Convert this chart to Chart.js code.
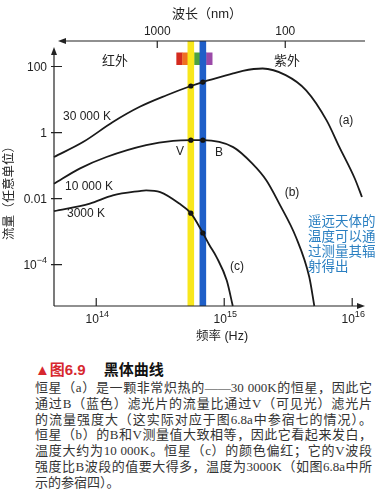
<!DOCTYPE html>
<html>
<head>
<meta charset="utf-8">
<script src="https://cdn.jsdelivr.net/npm/chart.js@4.4.0/dist/chart.umd.min.js"></script>
<style>
  body { margin: 0; background: #fff; width: 381px; height: 494px; overflow: hidden; position: relative; }
  #wrap { position: absolute; left: 0; top: 0; width: 381px; height: 350px; }
  #head { position: absolute; left: 35px; top: 361px; font-family: "Liberation Sans", "Noto Sans CJK SC", sans-serif; font-size: 15px; font-weight: bold; line-height: 18px; white-space: nowrap; }
  #head .red { color: #d7282f; }
  #head .ttl { color: #111; margin-left: 18px; }
  #cap { position: absolute; left: 35px; top: 380px; width: 337px; font-family: "Liberation Serif", "Noto Sans CJK SC", serif; font-size: 13px; color: #333; line-height: 15.8px; }
  #cap .ln { text-align: justify; text-align-last: justify; }
  #cap .last { text-align: left; }
</style>
</head>
<body>
<div id="wrap"><canvas id="myChart" width="381" height="350"></canvas></div>
<div id="head"><span class="red">▲图6.9</span><span class="ttl">黑体曲线</span></div>
<div id="cap">
  <div class="ln">恒星（a）是一颗非常炽热的——30 000K的恒星，因此它</div>
  <div class="ln">通过B（蓝色）滤光片的流量比通过V（可见光）滤光片</div>
  <div class="ln">的流量强度大（这实际对应于图6.8a中参宿七的情况）。</div>
  <div class="ln">恒星（b）的B和V测量值大致相等，因此它看起来发白，</div>
  <div class="ln">温度大约为10 000K。恒星（c）的颜色偏红；它的V波段</div>
  <div class="ln">强度比B波段的值要大得多，温度为3000K（如图6.8a中所</div>
  <div class="last">示的参宿四）。</div>
</div>
<script>
// everything in log10 units: x = log10(frequency Hz), y = log10(flux)
const logFreqA = [13.67, 13.90, 14.13, 14.34, 14.55, 14.739, 14.833, 15.07, 15.145, 15.30, 15.48, 15.64, 15.80, 15.90, 16.02, 16.076];
const logFluxA = [-0.74, -0.28, 0.32, 0.78, 1.13, 1.41, 1.53, 1.79, 1.87, 1.94, 1.74, 1.28, 0.37, -0.44, -1.39, -1.95];

const logFreqB = [13.67, 13.87, 14.08, 14.39, 14.60, 14.739, 14.833, 15.07, 15.22, 15.33, 15.43, 15.56, 15.665, 15.704];
const logFluxB = [-1.55, -1.09, -0.74, -0.38, -0.25, -0.23, -0.23, -0.44, -0.94, -1.45, -2.15, -3.16, -4.38, -5.25];

const logFreqC = [13.67, 13.95, 14.13, 14.34, 14.39, 14.50, 14.65, 14.739, 14.833, 14.885, 14.94, 15.02, 15.067];
const logFluxC = [-2.38, -2.15, -1.90, -1.77, -1.75, -1.80, -2.15, -2.44, -3.04, -3.41, -3.77, -4.48, -5.25];

// V and B filter positions and the flux read at each
const filterFreq = [14.739, 14.833];
const filterFluxA = [1.41, 1.53];
const filterFluxB = [-0.23, -0.23];
const filterFluxC = [-2.44, -3.04];

const xTicks = [14, 15, 16];
const xTickLabels = ['10^14', '10^15', '10^16'];
const yTicks = [2, 0, -2, -4];
const yTickLabels = ['100', '1', '0.01', '10^−4'];
const wavelengths = [1000, 100]; // nm, top axis
const rainbow = ['#d42a1e', '#ef6f22', '#f8e51c', '#4ea241', '#1f5bc6', '#9b4aa8'];
const rainbowFrom = 14.626, rainbowTo = 14.906;

function pts(xs, ys) {
    return xs.map((x, i) => ({ x: x, y: ys[i] }));
}

const LATIN = '"Liberation Sans", "Noto Sans CJK SC", sans-serif';

function supText(c, s, x, y, size, align) {
    // draws "10^14" style text, centred/right aligned on x
    let parts = s.split('^');
    c.font = size + 'px ' + LATIN;
    let w1 = c.measureText(parts[0]).width;
    let w2 = 0;
    if (parts[1]) {
        c.font = (size * 0.75) + 'px ' + LATIN;
        w2 = c.measureText(parts[1]).width;
    }
    let total = w1 + w2;
    let left = align == 'right' ? x - total : x - total / 2;
    c.textAlign = 'left';
    c.textBaseline = 'middle';
    c.font = size + 'px ' + LATIN;
    c.fillText(parts[0], left, y);
    if (parts[1]) {
        c.font = (size * 0.75) + 'px ' + LATIN;
        c.fillText(parts[1], left + w1, y - size * 0.42);
    }
}

function arrow(c, tx, ty, dx, dy) {
    // filled triangle with tip at (tx, ty) pointing along (dx, dy)
    let len = 8, half = 3;
    let bx = tx - dx * len, by = ty - dy * len;
    c.beginPath();
    c.moveTo(tx, ty);
    c.lineTo(bx - dy * half, by + dx * half);
    c.lineTo(bx + dy * half, by - dx * half);
    c.closePath();
    c.fill();
}

const bandsPlugin = {
    id: 'bands',
    beforeDatasetsDraw(chart) {
        const c = chart.ctx, xs = chart.scales.x, area = chart.chartArea;
        c.save();
        // rainbow strip
        let step = (rainbowTo - rainbowFrom) / rainbow.length;
        rainbow.forEach((col, i) => {
            let x0 = xs.getPixelForValue(rainbowFrom + i * step);
            let x1 = xs.getPixelForValue(rainbowFrom + (i + 1) * step);
            c.fillStyle = col;
            c.fillRect(x0, 52.5, x1 - x0 + 0.3, 12.5);
        });
        // V (yellow) and B (blue) filter bands
        let cols = ['#f8e71c', '#1f5fc8'];
        filterFreq.forEach((f, i) => {
            let px = xs.getPixelForValue(f);
            c.fillStyle = cols[i];
            c.fillRect(px - 3.3, 41, 6.6, area.bottom - 41);
        });
        c.restore();
    },
    afterDatasetsDraw(chart) {
        const c = chart.ctx, xs = chart.scales.x, ys = chart.scales.y, area = chart.chartArea;
        c.save();
        c.strokeStyle = '#222';
        c.fillStyle = '#222';
        c.lineWidth = 1.2;

        // bottom axis
        c.beginPath();
        c.moveTo(area.left, area.bottom);
        c.lineTo(area.right - 4, area.bottom);
        c.stroke();
        arrow(c, area.right, area.bottom, 1, 0);
        // left axis
        c.beginPath();
        c.moveTo(area.left, area.bottom);
        c.lineTo(area.left, area.top + 2);
        c.stroke();
        arrow(c, area.left, area.top - 3, 0, -1);
        // top (wavelength) axis
        c.beginPath();
        c.moveTo(64, 41);
        c.lineTo(365, 41);
        c.stroke();
        arrow(c, 58, 41, -1, 0);

        c.beginPath();
        xTicks.forEach(v => {
            let px = xs.getPixelForValue(v);
            c.moveTo(px, area.bottom);
            c.lineTo(px, area.bottom - 8);
        });
        yTicks.forEach(v => {
            let py = ys.getPixelForValue(v);
            c.moveTo(area.left - 3, py);
            c.lineTo(area.left + 8, py);
        });
        wavelengths.forEach(w => {
            let px = xs.getPixelForValue(Math.log10(2.998e17 / w));
            c.moveTo(px, 41);
            c.lineTo(px, 48);
        });
        c.stroke();

        // tick labels
        c.fillStyle = '#222';
        xTicks.forEach((v, i) => supText(c, xTickLabels[i], xs.getPixelForValue(v) + 1, 320, 12, 'center'));
        yTicks.forEach((v, i) => supText(c, yTickLabels[i], 47, ys.getPixelForValue(v) + 1, 12, 'right'));
        wavelengths.forEach(w => supText(c, String(w), xs.getPixelForValue(Math.log10(2.998e17 / w)), 32, 12, 'center'));

        // curve labels
        c.textBaseline = 'middle';
        c.textAlign = 'left';
        c.font = '12px ' + LATIN;
        c.fillText('30 000 K', 63, 117);
        c.fillText('10 000 K', 65, 187);
        c.fillText('3000 K', 67, 214);
        c.textAlign = 'center';
        c.fillText('V', 180, 152);
        c.fillText('B', 219, 153);
        c.fillText('(a)', 346, 121);
        c.fillText('(b)', 292, 193);
        c.fillText('(c)', 237, 267);

        // chinese labels
        c.font = '13px ' + LATIN;
        c.fillText('红外', 115, 61);
        c.fillText('紫外', 287, 61);
        c.fillText('波长（nm）', 207, 14);
        c.font = '12.5px ' + LATIN;
        c.fillText('频率 (Hz)', 222, 337);

        c.save();
        c.translate(10, 190);
        c.rotate(-Math.PI / 2);
        c.font = '12.5px ' + LATIN;
        c.fillText('流量（任意单位）', 0, 0);
        c.restore();

        // blue note
        c.fillStyle = '#2a7fc1';
        c.textAlign = 'left';
        c.font = '13.5px "Noto Sans CJK SC", sans-serif';
        ['遥远天体的', '温度可以通', '过测量其辐', '射得出'].forEach((t, i) => {
            c.fillText(t, 308, 221 + i * 14.8);
        });
        c.restore();
    }
};

const curveStyle = {
    borderColor: '#1a1a1a',
    borderWidth: 1.8,
    pointRadius: 0,
    fill: false,
    cubicInterpolationMode: 'monotone',
    clip: false
};

const ctx = document.getElementById('myChart');
const myChart = new Chart(ctx, {
    type: 'line',
    data: {
        datasets: [
            Object.assign({ label: '30 000 K', data: pts(logFreqA, logFluxA) }, curveStyle),
            Object.assign({ label: '10 000 K', data: pts(logFreqB, logFluxB) }, curveStyle),
            Object.assign({ label: '3000 K', data: pts(logFreqC, logFluxC) }, curveStyle),
            {
                label: 'dots',
                data: pts(filterFreq, filterFluxA).concat(pts(filterFreq, filterFluxB), pts(filterFreq, filterFluxC)),
                showLine: false,
                pointRadius: 2.6,
                pointBackgroundColor: '#111',
                pointBorderWidth: 0,
                clip: false
            }
        ]
    },
    options: {
        responsive: false,
        animation: false,
        devicePixelRatio: 1,
        layout: { padding: { left: 54, right: 16, top: 50, bottom: 44 } },
        plugins: { legend: { display: false }, tooltip: { enabled: false } },
        scales: {
            x: { type: 'linear', min: 13.67, max: 16.1, display: false },
            y: { type: 'linear', min: -5.25, max: 2.5, display: false }
        }
    },
    plugins: [bandsPlugin]
});
</script>
</body>
</html>
